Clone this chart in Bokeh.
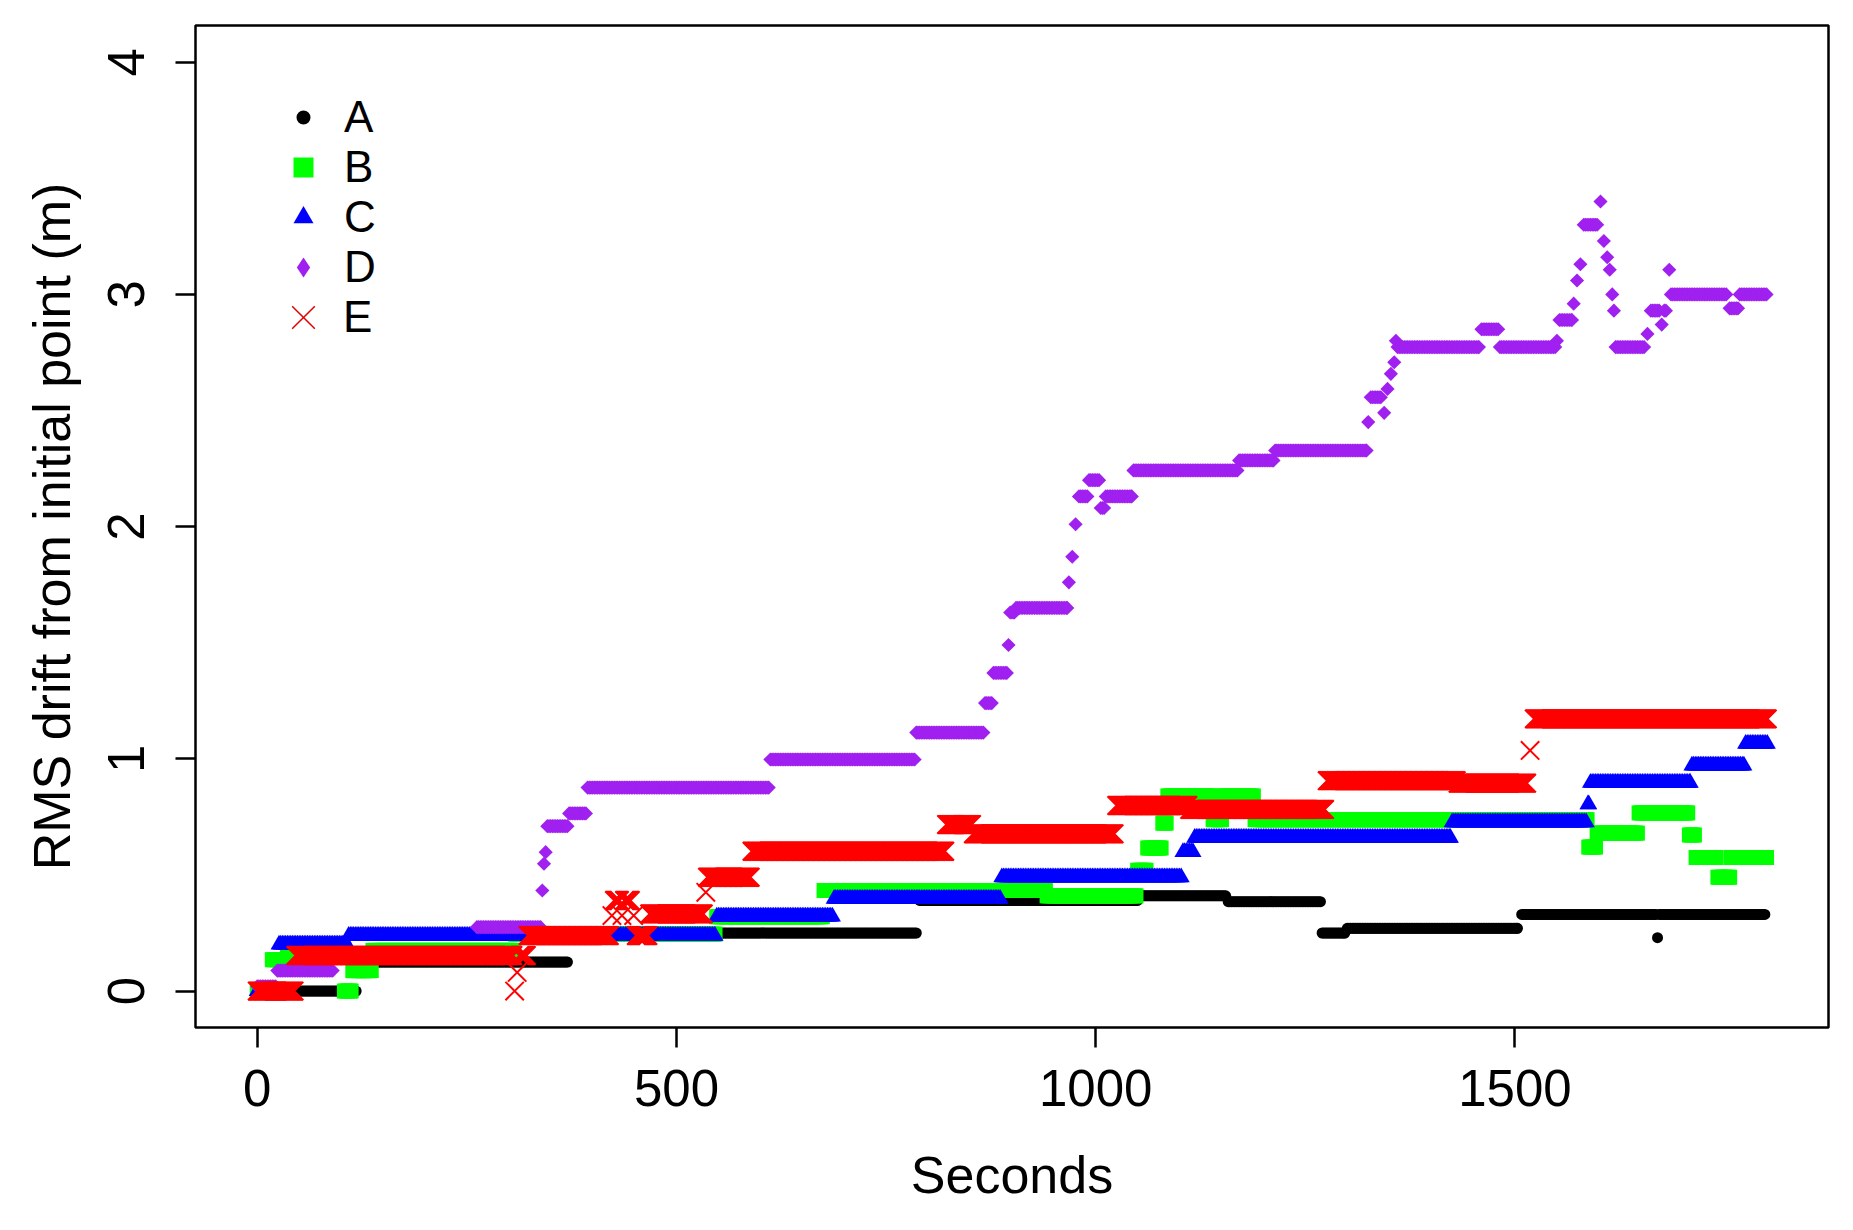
import numpy as np
from bokeh.plotting import figure
from bokeh.models import Range1d, FixedTicker, Legend, LegendItem, ColumnDataSource
from bokeh.embed import file_html
from bokeh.resources import INLINE

# ---------------- data: runs of constant RMS drift (start s, end s, value m) ----------------
A_start = [0, 120, 378, 790, 1055, 1158, 1270, 1300, 1508, 1670, 1672]
A_end   = [118, 370, 786, 1050, 1155, 1268, 1297, 1503, 1668, 1670, 1798]
A_val   = [0.0, 0.125, 0.25, 0.39, 0.41, 0.385, 0.25, 0.27, 0.33, 0.23, 0.33]

B_start = [0, 18, 36, 104, 114, 138, 308, 548, 676, 942, 1050, 1062, 1080, 1086, 1140, 1152,
           1190, 1588, 1598, 1648, 1708, 1716, 1742, 1758]
B_end   = [16, 34, 102, 112, 136, 306, 546, 674, 940, 1048, 1060, 1078, 1084, 1138, 1150, 1188,
           1586, 1596, 1646, 1706, 1714, 1740, 1756, 1800]
B_val   = [0.0, 0.135, 0.16, 0.0, 0.088, 0.175, 0.245, 0.32, 0.433, 0.41, 0.52, 0.616, 0.723, 0.84,
           0.738, 0.84, 0.738, 0.62, 0.68, 0.767, 0.672, 0.575, 0.49, 0.575]

C_start = [0, 26, 109, 548, 688, 888, 1104, 1118, 1425, 1587, 1590, 1711, 1775]
C_end   = [24, 107, 546, 686, 886, 1102, 1116, 1423, 1585, 1588, 1709, 1773, 1801]
C_val   = [0.0, 0.2, 0.238, 0.321, 0.397, 0.49, 0.598, 0.66, 0.727, 0.804, 0.897, 0.971, 1.065]

D_start = [0, 24, 92, 262, 340, 342, 344, 346, 372, 394, 612, 786, 868, 878, 896, 898, 905,
           968, 972, 976, 980, 992, 1006, 1012, 1045, 1171, 1214, 1325, 1328, 1344, 1348, 1352,
           1356, 1358, 1360, 1460, 1482, 1550, 1553, 1570, 1574, 1578, 1582, 1602, 1606, 1610,
           1613, 1616, 1618, 1620, 1658, 1662, 1675, 1678, 1684, 1686, 1756, 1768]
D_end   = [22, 90, 260, 338, 340, 342, 344, 370, 392, 610, 784, 866, 876, 894, 896, 903, 966,
           968, 972, 976, 990, 1004, 1010, 1043, 1169, 1212, 1323, 1325, 1340, 1344, 1348, 1352,
           1356, 1358, 1457, 1480, 1548, 1550, 1568, 1570, 1574, 1578, 1598, 1602, 1606, 1610,
           1613, 1616, 1618, 1654, 1658, 1672, 1675, 1680, 1684, 1752, 1766, 1800]
D_val   = [0.02, 0.088, 0.15, 0.275, 0.433, 0.548, 0.598, 0.71, 0.765, 0.876, 0.997, 1.113, 1.24,
           1.37, 1.49, 1.63, 1.65, 1.76, 1.87, 2.01, 2.13, 2.20, 2.08, 2.13, 2.242, 2.285, 2.328,
           2.45, 2.557, 2.49, 2.593, 2.658, 2.708, 2.80, 2.773, 2.85, 2.773, 2.80, 2.89, 2.96,
           3.06, 3.13, 3.30, 3.40, 3.23, 3.16, 3.106, 3.00, 2.93, 2.773, 2.83, 2.93, 2.87, 2.93,
           3.106, 3.00, 2.94, 3.00]

E_start = [0, 46, 307, 310, 313, 323, 423, 426, 435, 438, 449, 452, 468, 535, 537, 590, 822,
           854, 1025, 1112, 1276, 1432, 1518, 1523]
E_end   = [44, 305, 307, 310, 321, 420, 423, 432, 435, 445, 449, 466, 532, 535, 588, 820, 852,
           1022, 1110, 1273, 1430, 1514, 1518, 1801]
E_val   = [0.0, 0.153, 0.0, 0.08, 0.153, 0.239, 0.325, 0.39, 0.325, 0.39, 0.325, 0.239, 0.332,
           0.425, 0.49, 0.602, 0.717, 0.677, 0.799, 0.782, 0.906, 0.895, 1.036, 1.172]

x_ticks = [0, 500, 1000, 1500]
y_ticks = [0, 1, 2, 3, 4]
series_labels = ["A", "B", "C", "D", "E"]


def expand(starts, ends, vals, step):
    xs, ys = [], []
    for s, e, v in zip(starts, ends, vals):
        t = np.arange(s, e + 1, step)
        if t[-1] != e:
            t = np.append(t, e)
        xs.extend(t.tolist())
        ys.extend([v] * len(t))
    return dict(x=xs, y=ys)


FONT = "Liberation Sans"

p = figure(width=1845, height=1222, output_backend="svg", toolbar_location=None,
           x_range=Range1d(-73.6, 1873.9), y_range=Range1d(-0.157, 4.158),
           min_border_left=195, min_border_right=17, min_border_top=25, min_border_bottom=195,
           background_fill_color="white", border_fill_color="white")
p.grid.visible = False
p.outline_line_color = "black"
p.outline_line_width = 2.5

rA = p.scatter("x", "y", source=ColumnDataSource(expand(A_start, A_end, A_val, 2)),
               marker="circle", size=11, fill_color="black", line_color=None)
rB = p.scatter("x", "y", source=ColumnDataSource(expand(B_start, B_end, B_val, 2)),
               marker="square", size=15, fill_color="#00FF00", line_color=None)
rC = p.scatter("x", "y", source=ColumnDataSource(expand(C_start, C_end, C_val, 2)),
               marker="triangle", size=17, fill_color="#0000FF", line_color=None)
rD = p.scatter("x", "y", source=ColumnDataSource(expand(D_start, D_end, D_val, 2)),
               marker="square", angle=np.pi / 4, size=10, fill_color="#A020F0", line_color=None)
rE = p.scatter("x", "y", source=ColumnDataSource(expand(E_start, E_end, E_val, 1)),
               marker="x", size=26, line_color="#FF0000", line_width=2)

# legend-only glyph styles (a single undefined point, never drawn in the plot area):
# small dot for A, diamond for D, thin cross for E
def legend_only():
    return ColumnDataSource(dict(x=[np.nan], y=[np.nan]))

gA = p.scatter("x", "y", source=legend_only(), marker="circle",
               fill_color="black", line_color="white", line_width=6)
gD = p.scatter("x", "y", source=legend_only(), marker="diamond",
               fill_color="#A020F0", line_color=None)
gE = p.scatter("x", "y", source=legend_only(), marker="x",
               line_color="#E00000", line_width=1.5)

for ax in (p.xaxis[0], p.yaxis[0]):
    ax.axis_line_color = None
    ax.major_tick_out = 20
    ax.major_tick_in = 0
    ax.major_tick_line_width = 2.5
    ax.major_tick_line_color = "black"
    ax.minor_tick_line_color = None
    ax.major_label_text_font = FONT
    ax.major_label_text_font_size = "51px"
    ax.major_label_text_color = "black"
    ax.axis_label_text_font = FONT
    ax.axis_label_text_font_size = "52px"
    ax.axis_label_text_font_style = "normal"
    ax.axis_label_text_color = "black"

p.xaxis[0].ticker = FixedTicker(ticks=x_ticks)
p.yaxis[0].ticker = FixedTicker(ticks=y_ticks)
p.xaxis[0].axis_label = "Seconds"
p.yaxis[0].axis_label = "RMS drift from initial point (m)"
p.xaxis[0].major_label_standoff = 22
p.xaxis[0].axis_label_standoff = 37
p.yaxis[0].major_label_orientation = "vertical"
p.yaxis[0].major_label_standoff = 31
p.yaxis[0].axis_label_standoff = 25

legend_style = dict(padding=0, spacing=0, label_standoff=0,
                    label_text_font=FONT, label_text_font_size="44px",
                    label_text_color="black", border_line_color=None,
                    background_fill_alpha=0)

legend = Legend(items=[LegendItem(label=l, renderers=[r]) for l, r in
                       zip(series_labels[:4], [gA, rB, rC, gD])],
                location="top_left", margin=67, glyph_width=82, glyph_height=50,
                **legend_style)
p.add_layout(legend)

# fifth entry gets a larger glyph box so its cross is drawn at the reference size
legend_e = Legend(items=[LegendItem(label=series_labels[4], renderers=[gE])],
                  location=(68, 670), margin=0, glyph_width=80, glyph_height=80,
                  **legend_style)
p.add_layout(legend_e)

open("out.html", "w").write(file_html(p, INLINE))
